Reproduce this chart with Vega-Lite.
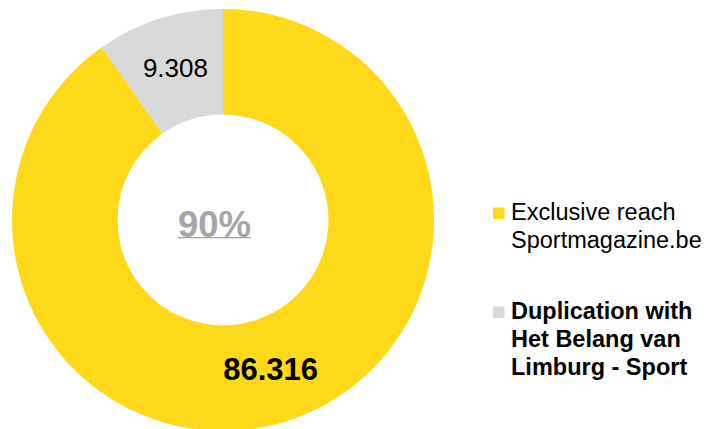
{
  "$schema": "https://vega.github.io/schema/vega-lite/v6.json",
  "width": 446,
  "height": 420,
  "padding": {"left": 0, "top": 9, "right": 0, "bottom": 0},
  "autosize": {"type": "pad"},
  "background": "white",
  "config": {"view": {"stroke": null}, "font": "Liberation Sans"},
  "data": {
    "values": [
      {"segment": "Exclusive reach Sportmagazine.be", "value": 86316, "label": "86.316"},
      {"segment": "Duplication with Het Belang van Limburg - Sport", "value": 9308, "label": "9.308"}
    ]
  },
  "encoding": {
    "theta": {"field": "value", "type": "quantitative", "stack": true},
    "order": {"field": "value", "type": "quantitative", "sort": "descending"}
  },
  "layer": [
    {
      "mark": {"type": "arc", "outerRadius": 211, "innerRadius": 105.5},
      "encoding": {
        "color": {
          "field": "segment",
          "type": "nominal",
          "scale": {
            "domain": ["Exclusive reach Sportmagazine.be", "Duplication with Het Belang van Limburg - Sport"],
            "range": ["#FDD91A", "#D9D9D9"]
          },
          "legend": {
            "orient": "none",
            "legendX": 487,
            "legendY": 191.5,
            "title": null,
            "symbolType": "square",
            "symbolSize": 132,
            "symbolStrokeWidth": 0,
            "labelFontSize": 23.5,
            "labelFont": "Liberation Sans",
            "labelColor": "black",
            "labelOffset": 0.5,
            "labelLimit": 400,
            "rowPadding": 46,
            "labelExpr": "datum.label == 'Exclusive reach Sportmagazine.be' ? ['Exclusive reach', 'Sportmagazine.be'] : ['Duplication with', 'Het Belang van', 'Limburg - Sport']",
            "encode": {
              "labels": {
                "update": {
                  "fontWeight": {"signal": "datum.value == 'Duplication with Het Belang van Limburg - Sport' ? 'bold' : 'normal'"},
                  "lineHeight": {"value": 28}
                }
              }
            }
          }
        }
      }
    },
    {
      "mark": {"type": "text", "radius": 158, "fontSize": 26, "color": "black", "font": "Liberation Sans"},
      "encoding": {
        "text": {"condition": {"test": "datum.value < 50000", "field": "label"}, "value": ""}
      }
    },
    {
      "mark": {"type": "text", "radius": 158, "fontSize": 31, "fontWeight": "bold", "color": "black", "font": "Liberation Sans"},
      "encoding": {
        "text": {"condition": {"test": "datum.value >= 50000", "field": "label"}, "value": ""}
      }
    },
    {
      "data": {"values": [{"share": "90%"}]},
      "layer": [
        {
          "mark": {"type": "text", "fontSize": 36.5, "fontWeight": "bold", "color": "#A6A6A6", "font": "Liberation Sans", "baseline": "alphabetic", "dx": -8.5, "dy": 17},
          "encoding": {"theta": null, "order": null, "text": {"field": "share"}}
        },
        {
          "mark": {"type": "text", "fontSize": 32.5, "fontWeight": "bold", "color": "#A6A6A6", "font": "Liberation Sans", "baseline": "alphabetic", "dx": -8.5, "dy": 14},
          "encoding": {"theta": null, "order": null, "text": {"value": "____"}}
        }
      ]
    }
  ]
}
